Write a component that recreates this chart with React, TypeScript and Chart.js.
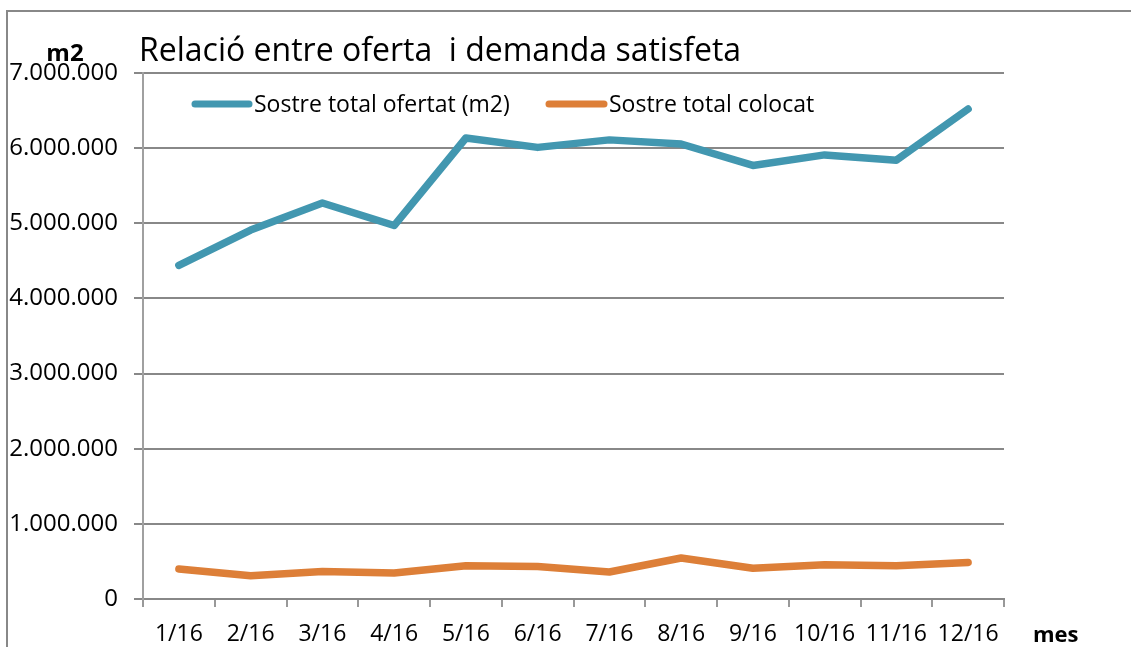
import React, { useEffect, useRef } from "react";
import { Chart, registerables } from "chart.js";

Chart.register(...registerables);

const months = ["1/16", "2/16", "3/16", "4/16", "5/16", "6/16", "7/16", "8/16", "9/16", "10/16", "11/16", "12/16"];
const sostreOfertat = [4440000, 4910000, 5270000, 4970000, 6135000, 6010000, 6110000, 6055000, 5770000, 5910000, 5840000, 6520000];
const sostreColocat = [400000, 310000, 367000, 346000, 443000, 434000, 360000, 546000, 410000, 456000, 443000, 487000];
const yTickValues = [0, 1000000, 2000000, 3000000, 4000000, 5000000, 6000000, 7000000];

const titleText = "Relació entre oferta  i demanda satisfeta";
const seriesNames = ["Sostre total ofertat (m2)", "Sostre total colocat"];
const yUnitLabel = "m2";
const xUnitLabel = "mes";

const BLUE = "#4297B0";
const ORANGE = "#DD7F38";
const FONT = "'Open Sans', 'Noto Sans', sans-serif";

function fmt(v: number): string {
  const s = Math.round(v).toString();
  return s.replace(/\B(?=(\d{3})+(?!\d))/g, ".");
}

const overlayPlugin = {
  id: "overlay",
  afterDraw(chart: any) {
    const ctx = chart.ctx as CanvasRenderingContext2D;
    ctx.save();
    // frame
    ctx.strokeStyle = "#888888";
    ctx.lineWidth = 2;
    ctx.beginPath();
    ctx.moveTo(7, 647);
    ctx.lineTo(7, 11);
    ctx.lineTo(1131, 11);
    ctx.stroke();

    ctx.fillStyle = "#000";
    ctx.textBaseline = "alphabetic";
    // title
    ctx.font = `32px ${FONT}`;
    ctx.textAlign = "left";
    ctx.fillText(titleText, 139, 61);

    // unit labels
    ctx.font = `bold 24px ${FONT}`;
    ctx.textAlign = "center";
    ctx.fillText(yUnitLabel, 65, 61);
    ctx.font = `bold 22px ${FONT}`;
    ctx.textAlign = "left";
    ctx.fillText(xUnitLabel, 1033, 642);

    // legend
    const items = [
      { x0: 195, x1: 249, tx: 254, color: BLUE, text: seriesNames[0] },
      { x0: 549, x1: 604, tx: 609, color: ORANGE, text: seriesNames[1] },
    ];
    ctx.font = `23px ${FONT}`;
    ctx.textAlign = "left";
    for (const it of items) {
      ctx.strokeStyle = it.color;
      ctx.lineWidth = 7;
      ctx.lineCap = "round";
      ctx.beginPath();
      ctx.moveTo(it.x0, 104);
      ctx.lineTo(it.x1, 104);
      ctx.stroke();
      ctx.fillStyle = "#000";
      ctx.fillText(it.text, it.tx, 112);
    }
    ctx.restore();
  },
};

export default function App() {
  const ref = useRef<HTMLCanvasElement | null>(null);
  useEffect(() => {
    if (!ref.current) return;
    Chart.defaults.font.family = FONT;
    const chart = new Chart(ref.current, {
      type: "line",
      data: {
        labels: months,
        datasets: [
          {
            label: seriesNames[0],
            data: sostreOfertat,
            borderColor: BLUE,
            backgroundColor: BLUE,
            borderWidth: 7.5,
            pointRadius: 0,
            borderCapStyle: "round",
            borderJoinStyle: "round",
            tension: 0,
          },
          {
            label: seriesNames[1],
            data: sostreColocat,
            borderColor: ORANGE,
            backgroundColor: ORANGE,
            borderWidth: 7.5,
            pointRadius: 0,
            borderCapStyle: "round",
            borderJoinStyle: "round",
            tension: 0,
          },
        ],
      },
      options: {
        responsive: false,
        animation: false,
        layout: { padding: { left: 0, top: 73, right: 127, bottom: 0 } },
        plugins: {
          legend: { display: false },
          title: { display: false },
          tooltip: { enabled: false },
        },
        scales: {
          x: {
            type: "category",
            offset: true,
            grid: {
              offset: true,
              drawOnChartArea: false,
              drawTicks: true,
              tickLength: 8,
              color: "#999999",
              lineWidth: 2,
            },
            border: { display: true, color: "#888888", width: 2 },
            ticks: {
              color: "#000",
              font: { size: 23, family: FONT },
              padding: 14,
              maxRotation: 0,
              autoSkip: false,
            },
            afterFit(scale: any) {
              scale.height = 48;
            },
          },
          y: {
            min: 0,
            max: 7000000,
            afterBuildTicks(scale: any) {
              scale.ticks = yTickValues.map((v) => ({ value: v }));
            },
            grid: {
              color: "#888888",
              lineWidth: 2,
              drawTicks: true,
              tickLength: 9,
            },
            border: { display: true, color: "#a0a0a0", width: 2 },
            ticks: {
              color: "#000",
              font: { size: 24, family: FONT },
              padding: 16,
              callback: (v: any) => fmt(Number(v)),
            },
            afterFit(scale: any) {
              scale.width = 143;
            },
          },
        },
      },
      plugins: [overlayPlugin],
    });
    return () => chart.destroy();
  }, []);
  return (
    <div style={{ position: "absolute", left: 0, top: 0, width: 1131, height: 647, background: "#fff" }}>
      <canvas ref={ref} width={1131} height={647} style={{ display: "block" }} />
    </div>
  );
}
